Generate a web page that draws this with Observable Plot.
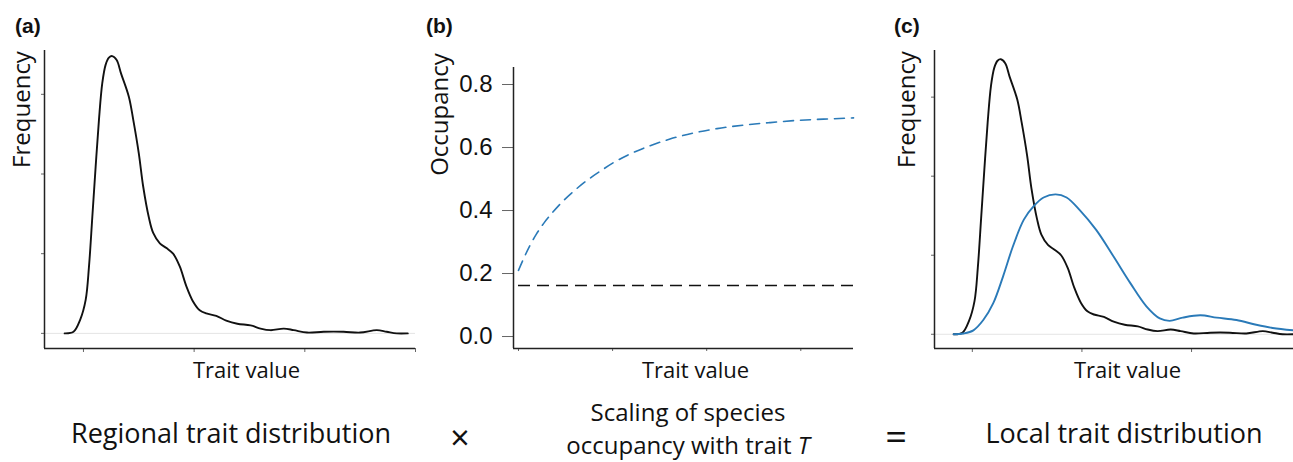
<!DOCTYPE html>
<html>
<head>
<meta charset="utf-8">
<script src="https://cdn.jsdelivr.net/npm/d3@7"></script>
<script src="https://cdn.jsdelivr.net/npm/@observablehq/plot@0.6"></script>
<style>
  html, body { margin: 0; padding: 0; background: #fff; }
  #root { position: relative; width: 1293px; height: 462px; overflow: hidden; font-family: "Open Sans", Lato, sans-serif; color: #111; }
  .panel { position: absolute; top: 0; }
  .cap { position: absolute; transform: translateX(-50%); white-space: nowrap; font-size: 27px; line-height: 26px; text-align: center; }
  .tag { position: absolute; font-family: "Liberation Sans", Arial, sans-serif; font-weight: bold; font-size: 21px; line-height: 21px; }
</style>
</head>
<body>
<div id="root"></div>
<script>
// ---- data ----
// Regional trait distribution (black density curve)
const regionalX = [0.83, 0.91, 0.97, 1.02, 1.05, 1.08, 1.11, 1.14, 1.17, 1.20, 1.23, 1.26, 1.30, 1.34, 1.41, 1.45, 1.50, 1.54, 1.59, 1.63, 1.69, 1.75, 1.81, 1.87, 1.93, 1.99, 2.05, 2.11, 2.20, 2.29, 2.39, 2.51, 2.60, 2.69, 2.81, 2.90, 3.02, 3.17, 3.35, 3.50, 3.65, 3.74, 3.83, 3.93];
const regionalY = [0.00, 0.02, 0.17, 0.42, 0.84, 1.46, 2.09, 2.68, 3.14, 3.37, 3.46, 3.48, 3.43, 3.26, 2.97, 2.68, 2.26, 1.84, 1.46, 1.26, 1.13, 1.07, 1.00, 0.84, 0.59, 0.40, 0.29, 0.25, 0.22, 0.16, 0.12, 0.10, 0.06, 0.04, 0.06, 0.04, 0.01, 0.02, 0.02, 0.01, 0.04, 0.02, 0.00, 0.00];
// Local trait distribution (blue density curve)
const localX = [0.83, 0.92, 1.01, 1.10, 1.19, 1.28, 1.37, 1.47, 1.56, 1.65, 1.76, 1.86, 1.98, 2.13, 2.29, 2.44, 2.59, 2.71, 2.80, 2.92, 3.08, 3.23, 3.41, 3.59, 3.74, 3.93];
const localY = [0.00, 0.01, 0.05, 0.18, 0.39, 0.73, 1.11, 1.45, 1.62, 1.73, 1.77, 1.73, 1.57, 1.32, 0.98, 0.65, 0.35, 0.20, 0.17, 0.21, 0.24, 0.21, 0.18, 0.12, 0.08, 0.05];
// Occupancy scaling with trait
const occX = [1.00, 1.06, 1.12, 1.19, 1.27, 1.36, 1.46, 1.59, 1.73, 1.87, 2.01, 2.19, 2.40, 2.61, 2.86, 3.11, 3.39, 3.67, 3.96, 4.24, 4.56];
const occY = [0.210, 0.251, 0.288, 0.325, 0.360, 0.393, 0.426, 0.462, 0.496, 0.525, 0.552, 0.580, 0.606, 0.627, 0.646, 0.660, 0.671, 0.679, 0.686, 0.690, 0.694];
const occBaseline = 0.162;
// ticks
const xTicks = [1, 2, 3, 4];
const freqTicks = [0, 1, 2, 3];
const occTicks = [0, 0.2, 0.4, 0.6, 0.8];
// texts
const panelTags = ["(a)", "(b)", "(c)"];
const xLabel = "Trait value";
const freqLabel = "Frequency";
const occLabel = "Occupancy";

const regional = regionalX.map((x, i) => ({x, y: regionalY[i]}));
const local = localX.map((x, i) => ({x, y: localY[i]}));
const occ = occX.map((x, i) => ({x, y: occY[i]}));

const BLUE = "#2a7ab8";
const AX = "#222";
const TICK = "#666";
const labelFont = "'Open Sans', Lato, sans-serif";

function densityPanel(series, xd, yd, opts) {
  return Plot.plot({
    width: opts.width, height: 400,
    marginLeft: opts.ml, marginRight: opts.mr, marginTop: 50, marginBottom: 52,
    x: {domain: xd}, y: {domain: yd},
    style: {background: "transparent", overflow: "visible", fontFamily: labelFont},
    marks: [
      Plot.ruleY([0], {stroke: "#e4e4e4", strokeWidth: 1}),
      ...series.map(s => Plot.line(s.data, {x: "x", y: "y", stroke: s.color, strokeWidth: 1.9, curve: "catmull-rom", clip: true})),
      Plot.axisX({ticks: xTicks, tickSize: 4, stroke: TICK, tickFormat: () => "", label: null}),
      Plot.axisY({ticks: freqTicks, tickSize: 3, stroke: TICK, tickFormat: () => "", label: null}),
      Plot.ruleX([xd[0]], {stroke: AX, strokeWidth: 1.5}),
      Plot.ruleY([yd[0]], {stroke: AX, strokeWidth: 1.5}),
      Plot.text([freqLabel], {frameAnchor: "top-left", rotate: -90, dx: opts.fdx, dy: 59, fontSize: 24, fontFamily: labelFont, fill: "#111", textAnchor: "middle", lineAnchor: "middle"}),
      Plot.text([xLabel], {frameAnchor: "bottom-left", dx: opts.tdx, dy: 22, fontSize: 22, fontFamily: labelFont, fill: "#111", textAnchor: "middle", lineAnchor: "middle"})
    ]
  });
}

const root = document.getElementById("root");

const a = densityPanel([{data: regional, color: "#111"}], [0.648, 4.0], [-0.19, 3.55], {width: 430, ml: 44, mr: 15, fdx: -22, tdx: 202});
a.classList.add("panel"); a.style.left = "0px";
root.appendChild(a);

const b = Plot.plot({
  width: 440, height: 400,
  marginLeft: 93, marginRight: 7, marginTop: 67, marginBottom: 52,
  x: {domain: [0.947, 4.56]}, y: {domain: [-0.038, 0.854]},
  style: {background: "transparent", overflow: "visible", fontFamily: labelFont},
  marks: [
    Plot.ruleY([occBaseline], {x1: 1.0, x2: 4.56, stroke: "#111", strokeWidth: 1.6, strokeDasharray: "12,7"}),
    Plot.line(occ, {x: "x", y: "y", stroke: BLUE, strokeWidth: 1.6, strokeDasharray: "10,7", curve: "monotone-x"}),
    Plot.axisX({ticks: xTicks, tickSize: 3, stroke: TICK, tickFormat: () => "", label: null}),
    Plot.axisY({ticks: occTicks, tickSize: 11, tickPadding: 10, stroke: TICK, tickFormat: d3.format(".1f"), label: null, fontSize: 24, fontFamily: "'Liberation Sans', Arial, sans-serif", fill: "#111"}),
    Plot.ruleX([0.947], {stroke: AX, strokeWidth: 1.5}),
    Plot.ruleY([-0.038], {stroke: AX, strokeWidth: 1.5}),
    Plot.text([occLabel], {frameAnchor: "top-left", rotate: -90, dx: -73, dy: 47, fontSize: 24, fontFamily: labelFont, fill: "#111", textAnchor: "middle", lineAnchor: "middle"}),
    Plot.text([xLabel], {frameAnchor: "bottom-left", dx: 182, dy: 22, fontSize: 22, fontFamily: labelFont, fill: "#111", textAnchor: "middle", lineAnchor: "middle"})
  ]
});
b.classList.add("panel"); b.style.left = "420px";
root.appendChild(b);

const c = densityPanel([{data: regional, color: "#111"}, {data: local, color: BLUE}], [0.655, 3.93], [-0.18, 3.59], {width: 413, ml: 54, mr: 0, fdx: -27, tdx: 193});
c.classList.add("panel"); c.style.left = "880px";
root.appendChild(c);

// panel tags
[[15, panelTags[0]], [426, panelTags[1]], [894, panelTags[2]]].forEach(([x, t]) => {
  const d = document.createElement("div");
  d.className = "tag"; d.textContent = t;
  d.style.left = x + "px"; d.style.top = "15px";
  root.appendChild(d);
});

// bottom captions
function cap(html, x, y, extra) {
  const d = document.createElement("div");
  d.className = "cap"; d.innerHTML = html;
  d.style.left = x + "px"; d.style.top = y + "px";
  if (extra) Object.assign(d.style, extra);
  root.appendChild(d);
}
cap("Regional trait distribution", 231, 420);
cap("×", 460, 420, {fontSize: "34px", lineHeight: "34px"});
cap("Scaling of species", 688, 399, {fontSize: "24px"});
cap("occupancy with trait <i>T</i>", 688, 432, {fontSize: "24px"});
cap("=", 896, 416, {fontSize: "38px", lineHeight: "38px"});
cap("Local trait distribution", 1124, 420);
</script>
</body>
</html>
